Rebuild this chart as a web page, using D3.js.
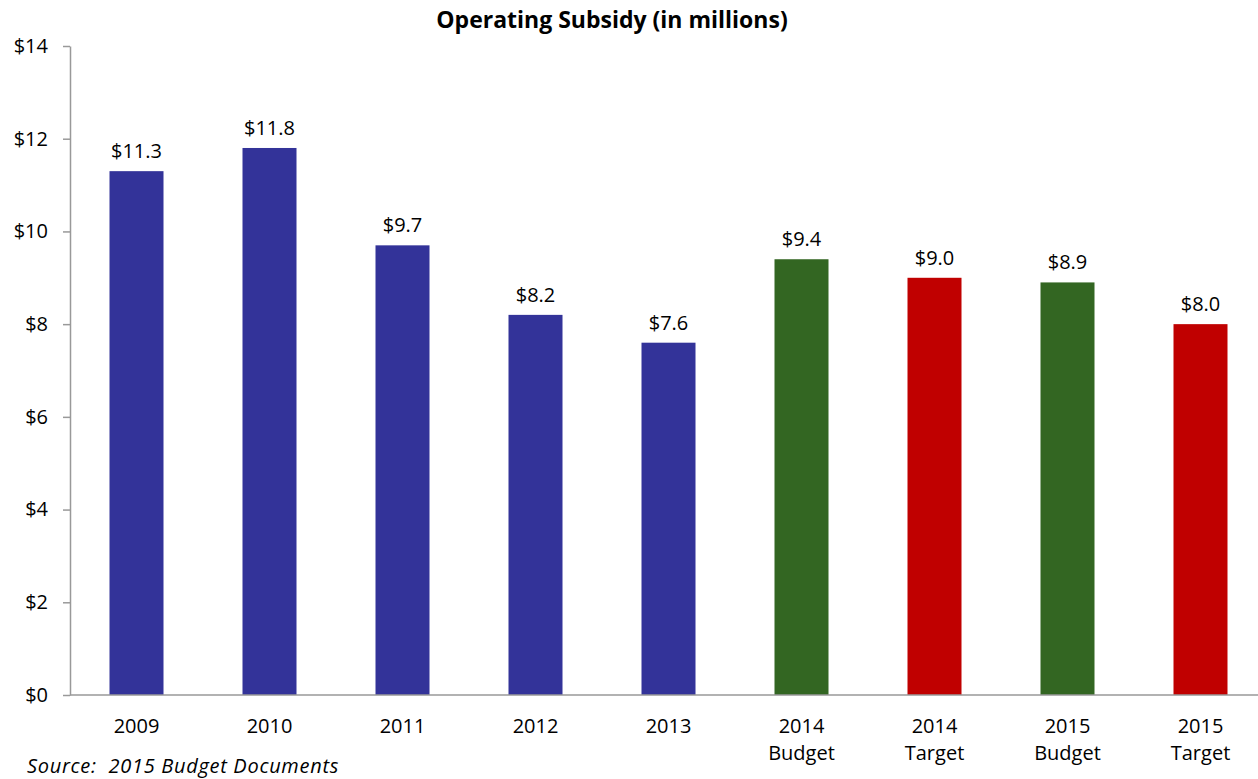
<!DOCTYPE html>
<html>
<head>
<meta charset="utf-8">
<script src="https://cdn.jsdelivr.net/npm/d3@7"></script>
<style>
  html, body { margin: 0; padding: 0; background: #fff; }
  svg { display: block; }
  text { font-family: "Open Sans", Lato, sans-serif; fill: #000; }
</style>
</head>
<body>
<svg id="chart" width="1258" height="779"></svg>
<script>
// Operating subsidy by year (millions of dollars)
const categories = ["2009", "2010", "2011", "2012", "2013", "2014\nBudget", "2014\nTarget", "2015\nBudget", "2015\nTarget"];
const values = [11.3, 11.8, 9.7, 8.2, 7.6, 9.4, 9.0, 8.9, 8.0];
const kinds = ["actual", "actual", "actual", "actual", "actual", "budget", "target", "budget", "target"];
const yTicks = [0, 2, 4, 6, 8, 10, 12, 14];

const colors = { actual: "#333399", budget: "#336622", target: "#c00000" };

const svg = d3.select("#chart");
const margin = { left: 70, right: -9, top: 46, bottom: 84 };
const W = 1258, H = 779;
const font = "\"Open Sans\", Lato, sans-serif";
const labelSize = "20px";

const x = d3.scaleBand()
  .domain(categories)
  .range([margin.left, W - margin.right])
  .paddingInner(0.594)
  .paddingOuter(0.297);

const y = d3.scaleLinear()
  .domain([0, 14])
  .range([H - margin.bottom, margin.top]);

// Title
svg.append("text")
  .attr("x", 612).attr("y", 28)
  .attr("text-anchor", "middle")
  .style("font-size", "23px").style("font-weight", "bold")
  .text("Operating Subsidy (in millions)");

// Y axis
const yAxis = svg.append("g")
  .attr("transform", `translate(${margin.left},0)`)
  .call(d3.axisLeft(y).tickValues(yTicks).tickSize(7).tickSizeOuter(0).tickPadding(15)
    .tickFormat(d => "$" + d));
yAxis.selectAll("path, line").attr("stroke", "#999").attr("stroke-width", 1.5);
yAxis.selectAll("text").style("font-size", labelSize).style("font-family", font).attr("fill", "#000");

// Bars
svg.append("g").selectAll("rect")
  .data(categories)
  .join("rect")
  .attr("x", d => x(d))
  .attr("width", x.bandwidth())
  .attr("y", (d, i) => y(values[i]))
  .attr("height", (d, i) => y(0) - y(values[i]))
  .attr("fill", (d, i) => colors[kinds[i]]);

// Value labels
svg.append("g").selectAll("text")
  .data(categories)
  .join("text")
  .attr("x", d => x(d) + x.bandwidth() / 2)
  .attr("y", (d, i) => y(values[i]) - 13)
  .attr("text-anchor", "middle")
  .style("font-size", labelSize)
  .text((d, i) => "$" + values[i].toFixed(1));

// X axis baseline
svg.append("line")
  .attr("x1", margin.left).attr("x2", W)
  .attr("y1", y(0)).attr("y2", y(0))
  .attr("stroke", "#999").attr("stroke-width", 1.5);

// Category labels (may span two lines)
const cat = svg.append("g").selectAll("text")
  .data(categories)
  .join("text")
  .attr("text-anchor", "middle")
  .style("font-size", labelSize);
cat.each(function(d) {
  const t = d3.select(this);
  d.split("\n").forEach((line, k) => {
    t.append("tspan")
      .attr("x", x(d) + x.bandwidth() / 2)
      .attr("y", y(0) + 38 + k * 27)
      .text(line);
  });
});

// Source note
svg.append("text")
  .attr("x", 27).attr("y", 773)
  .style("font-size", labelSize).style("font-style", "italic")
  .style("letter-spacing", "0.7px")
  .style("white-space", "pre")
  .text("Source:  2015 Budget Documents");
</script>
</body>
</html>
